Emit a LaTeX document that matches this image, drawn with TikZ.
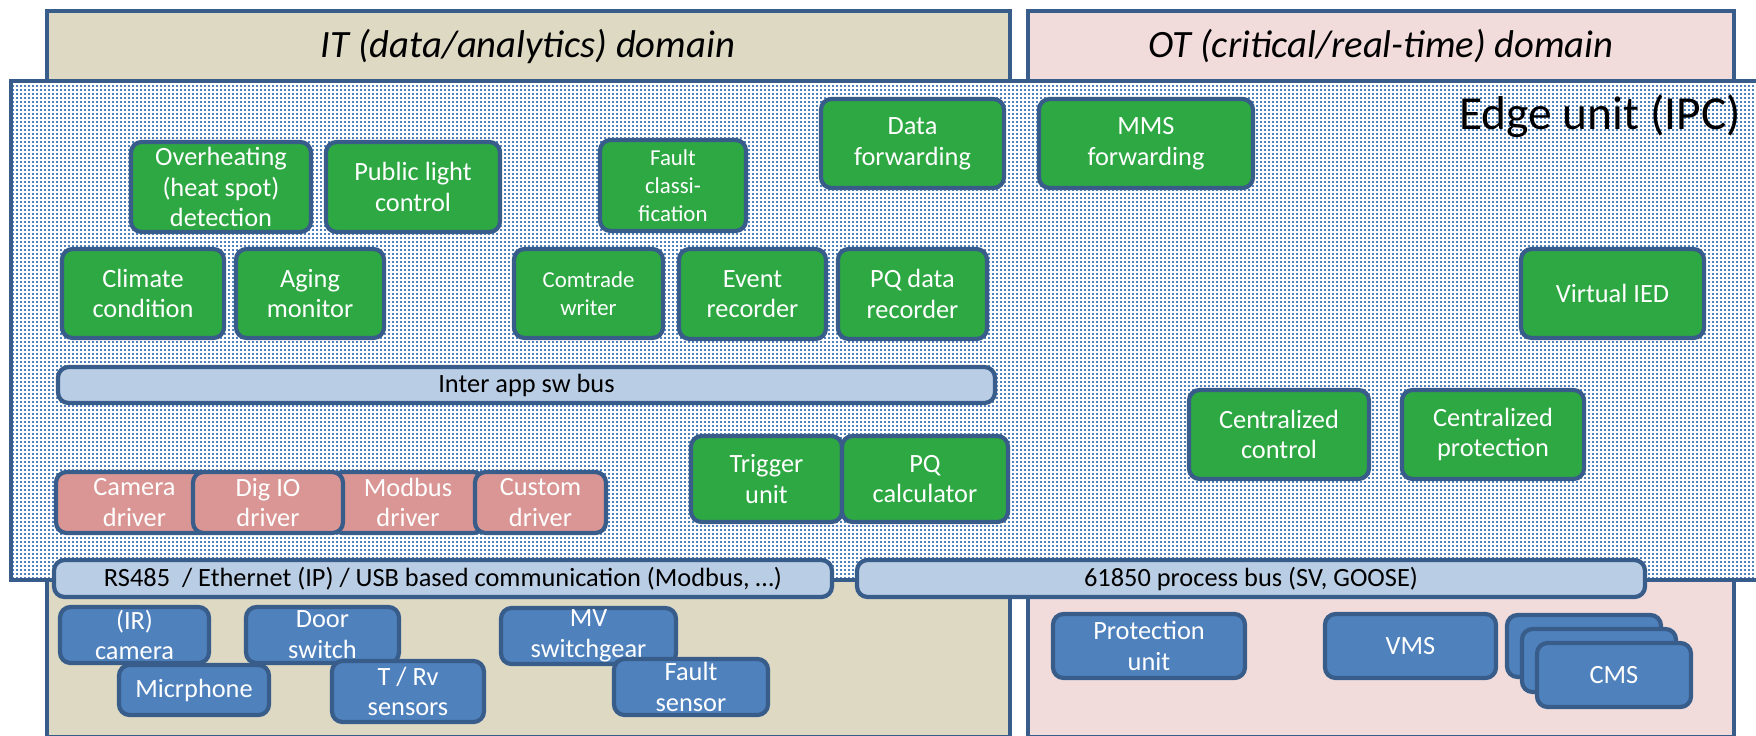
\documentclass[tikz,border=0pt]{standalone}
\usepackage{fontspec}
\setmainfont{Carlito}
\usetikzlibrary{patterns}

\definecolor{itbeige}{HTML}{DDD9C3}
\definecolor{otpink}{HTML}{F2DCDB}
\definecolor{lineblue}{HTML}{385D8A}
\definecolor{appgreen}{HTML}{2EA843}
\definecolor{drvpink}{HTML}{D99694}
\definecolor{busblue}{HTML}{B9CDE5}
\definecolor{devblue}{HTML}{4F81BD}

% small dot grid of the edge unit
\pgfdeclarepatternformonly{ipcdots}{\pgfqpoint{0pt}{0pt}}{\pgfqpoint{2.28pt}{2.28pt}}{\pgfqpoint{2.28pt}{2.28pt}}{%
  \pgfpathrectangle{\pgfqpoint{0pt}{0pt}}{\pgfqpoint{1.4pt}{1.4pt}}%
  \pgfusepath{fill}}

\begin{document}
\begin{tikzpicture}[x=0.02cm,y=-0.02cm,
    % corners in px: left, top, right, bottom
    cell/.style n args={4}{at={({(#1+#3)/2},{(#2+#4)/2})},
      minimum width={(#3-#1)*0.02cm}, minimum height={(#4-#2)*0.02cm}},
    box/.style={draw=lineblue, line width=2.4pt, rounded corners=6pt, inner sep=0pt,
      align=center, text=white, font=\fontsize{15}{17.5}\selectfont},
    app/.style={box, fill=appgreen},
    drv/.style={box, fill=drvpink},
    dev/.style={box, fill=devblue},
    bus/.style={box, fill=busblue, text=black},
    small/.style={font=\fontsize{13}{16}\selectfont},
    zone/.style={draw=lineblue, line width=1.9pt, inner sep=0pt},
    zonetitle/.style={font=\fontsize{22}{26}\selectfont\itshape}]

\useasboundingbox (0,0) rectangle (1756,735);

% domains
\node (itdom) [zone, fill=itbeige, cell={47}{11}{1010}{737}] {};
\node (otdom) [zone, fill=otpink, cell={1028}{11}{1734}{737}] {};
\node (ittitle) [zonetitle] at (528,46) {IT (data/analytics) domain};
\node (ottitle) [zonetitle] at (1381,46) {OT (critical/real-time) domain};

% edge unit
\node (ipc) [zone, preaction={fill=white}, pattern=ipcdots, pattern color=devblue,
  cell={11}{81}{1780}{580}] {};
\node (ipclabel) [anchor=east, font=\fontsize{27}{30}\selectfont] at (1747,116) {Edge unit (IPC)};

% apps
\node (heat) [app, cell={131}{142}{311}{232}] {Overheating\\(heat spot)\\detection};
\node (light) [app, cell={326}{142}{500}{232}] {Public light\\control};
\node (fault) [app, small, cell={600}{140}{746}{231}] {Fault\\classi-\\fication};
\node (fwd) [app, cell={821}{99}{1004}{188}] {Data\\forwarding};
\node (mms) [app, cell={1039}{99}{1253}{188}] {MMS\\forwarding};
\node (climate) [app, cell={62}{249}{224}{338}] {Climate\\condition};
\node (aging) [app, cell={236}{249}{384}{338}] {Aging\\monitor};
\node (comtrade) [app, small, cell={514}{249}{663}{338}] {Comtrade\\writer};
\node (event) [app, cell={679}{249}{826}{339}] {Event\\recorder};
\node (pqrec) [app, cell={838}{249}{987}{339}] {PQ data\\recorder};
\node (vied) [app, cell={1521}{249}{1704}{338}] {Virtual IED};
\node (appbus) [bus, cell={58}{367}{995}{403}] {Inter app sw bus};
\node (trigger) [app, cell={691}{436}{842}{522}] {Trigger\\unit};
\node (pqcalc) [app, cell={842}{436}{1008}{522}] {PQ\\calculator};
\node (cctrl) [app, cell={1189}{390}{1369}{479}] {Centralized\\control};
\node (cprot) [app, cell={1402}{390}{1584}{479}] {Centralized\\protection};

% drivers
\node (camdrv) [drv, cell={56}{472}{213}{533}] {Camera\\driver};
\node (modbusdrv) [drv, cell={332}{472}{484}{533}] {Modbus\\driver};
\node (digiodrv) [drv, cell={193}{472}{343}{533}] {Dig IO\\driver};
\node (customdrv) [drv, cell={475}{472}{606}{533}] {Custom\\driver};

% buses
\node (fieldbus) [bus, cell={54}{560}{832}{597}] {RS485~~/ Ethernet (IP) / USB based communication (Modbus, …)};
\node (procbus) [bus, cell={857}{560}{1645}{597}] {61850 process bus (SV, GOOSE)};

% field devices
\node (ircam) [dev, cell={60}{607}{209}{663}] {(IR)\\camera};
\node (door) [dev, cell={246}{607}{399}{663}] {Door\\switch};
\node (mvsg) [dev, cell={501}{608}{676}{664}] {MV\\switchgear};
\node (mic) [dev, cell={119}{665}{269}{715}] {Micrphone};
\node (trv) [dev, cell={332}{661}{484}{722}] {T / Rv\\sensors};
\node (faultsens) [dev, cell={614}{659}{768}{715}] {Fault\\sensor};
\node (protunit) [dev, cell={1053}{614}{1245}{678}] {Protection\\unit};
\node (vms) [dev, cell={1325}{614}{1496}{678}] {VMS};
\node (cmsa) [dev, cell={1507}{615}{1661}{677}] {};
\node (cmsb) [dev, cell={1522}{629}{1676}{692}] {};
\node (cmsc) [dev, cell={1537}{643}{1691}{707}] {CMS};

\end{tikzpicture}
\end{document}
